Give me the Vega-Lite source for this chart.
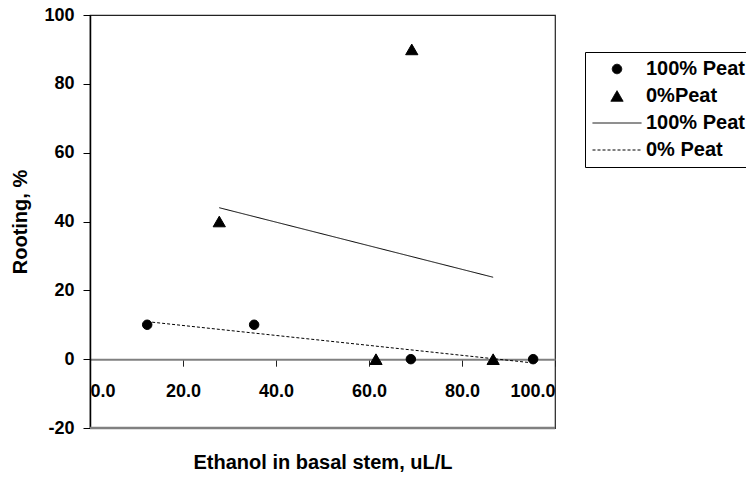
{
  "$schema": "https://vega.github.io/schema/vega-lite/v6.json",
  "autosize": {"type": "none"},
  "padding": {"left": 90, "top": 15, "right": 191, "bottom": 51},
  "width": 465,
  "height": 413,
  "background": "white",
  "config": {
    "view": {"stroke": "#222222", "strokeWidth": 1.2},
    "font": "Liberation Sans",
    "axis": {"grid": false, "labelFont": "Liberation Sans", "titleFont": "Liberation Sans", "labelFontWeight": "bold", "titleFontWeight": "bold", "labelColor": "black", "titleColor": "black"},
    "legend": {
      "orient": "none", "legendX": 495, "legendY": 37,
      "labelFont": "Liberation Sans", "labelFontSize": 20, "labelFontWeight": "bold", "labelColor": "black",
      "clipHeight": 20, "rowPadding": 7, "padding": 7,
      "labelOffset": 4, "symbolOffset": 0,
      "strokeColor": "black", "fillColor": "white",
      "symbolFillColor": "black", "symbolStrokeWidth": 1, "symbolOpacity": 1
    }
  },
  "data": {"values": [
    {"x": 12.3, "y": 10, "s": "a"},
    {"x": 35.3, "y": 10, "s": "a"},
    {"x": 69.0, "y": 0, "s": "a"},
    {"x": 95.3, "y": 0, "s": "a"},
    {"x": 27.8, "y": 40, "s": "b"},
    {"x": 69.2, "y": 90, "s": "b"},
    {"x": 61.5, "y": 0, "s": "b"},
    {"x": 86.7, "y": 0, "s": "b"},
    {"x": 27.8, "y": 44, "s": "c"},
    {"x": 86.7, "y": 23.8, "s": "c"},
    {"x": 12.3, "y": 10.9, "s": "d"},
    {"x": 95.3, "y": -1.1, "s": "d"},
    {"x": 0, "y": -20, "s": "e"},
    {"x": 100, "y": -20, "s": "e"}
  ]},
  "encoding": {
    "x": {
      "field": "x", "type": "quantitative",
      "scale": {"domain": [0, 100], "nice": false, "zero": false},
      "axis": {
        "values": [0, 20, 40, 60, 80, 100], "format": ".1f",
        "offset": -68.8, "domainColor": "#808080", "domainWidth": 2,
        "tickColor": "#222222", "tickSize": 7, "tickWidth": 1,
        "labelFontSize": 18, "labelPadding": 16,
        "title": "Ethanol in basal stem, uL/L", "titleFontSize": 20,
        "titleY": 103, "titleBaseline": "middle"
      }
    },
    "y": {
      "field": "y", "type": "quantitative",
      "scale": {"domain": [-20, 100], "nice": false, "zero": false},
      "axis": {
        "values": [-20, 0, 20, 40, 60, 80, 100],
        "labelExpr": "'' + datum.value",
        "domainColor": "black", "domainWidth": 1.5,
        "tickColor": "black", "tickSize": 7, "tickWidth": 1,
        "labelFontSize": 18, "labelPadding": 9,
        "title": "Rooting, %", "titleFontSize": 20,
        "titleAngle": -90, "titleX": -70, "titleY": 206.5,
        "titleAlign": "center", "titleBaseline": "middle"
      }
    }
  },
  "layer": [
    {
      "transform": [{"filter": "datum.s === 'e'"}],
      "mark": {"type": "line", "color": "#808080", "strokeWidth": 2.5},
      "encoding": {}
    },
    {
      "transform": [{"filter": "datum.s === 'c' || datum.s === 'd'"}],
      "mark": {"type": "line", "stroke": "black", "fill": "black", "strokeWidth": 1},
      "encoding": {
        "detail": {"field": "s"},
        "strokeDash": {
          "field": "s", "type": "nominal",
          "scale": {"domain": ["a", "b", "c", "d"], "range": [[1, 0], [1, 0], [1, 0], [3, 2]]},
          "legend": {"title": null, "labelExpr": "{'a': '100% Peat', 'b': '0%Peat', 'c': '100% Peat', 'd': '0% Peat'}[datum.value]"}
        }
      }
    },
    {
      "transform": [{"filter": "datum.s === 'a' || datum.s === 'b'"}],
      "mark": {"type": "point", "filled": false, "fill": "black", "stroke": "black", "strokeWidth": 1, "opacity": 1},
      "encoding": {
        "size": {
          "field": "s", "type": "nominal",
          "scale": {"type": "ordinal", "domain": ["a", "b", "c", "d"], "range": [90, 150, 2401, 2401]},
          "legend": {"title": null, "labelExpr": "{'a': '100% Peat', 'b': '0%Peat', 'c': '100% Peat', 'd': '0% Peat'}[datum.value]"}
        },
        "shape": {
          "field": "s", "type": "nominal",
          "scale": {"domain": ["a", "b", "c", "d"], "range": ["circle", "triangle-up", "stroke", "stroke"]},
          "legend": {"title": null, "labelExpr": "{'a': '100% Peat', 'b': '0%Peat', 'c': '100% Peat', 'd': '0% Peat'}[datum.value]"}
        }
      }
    }
  ]
}
